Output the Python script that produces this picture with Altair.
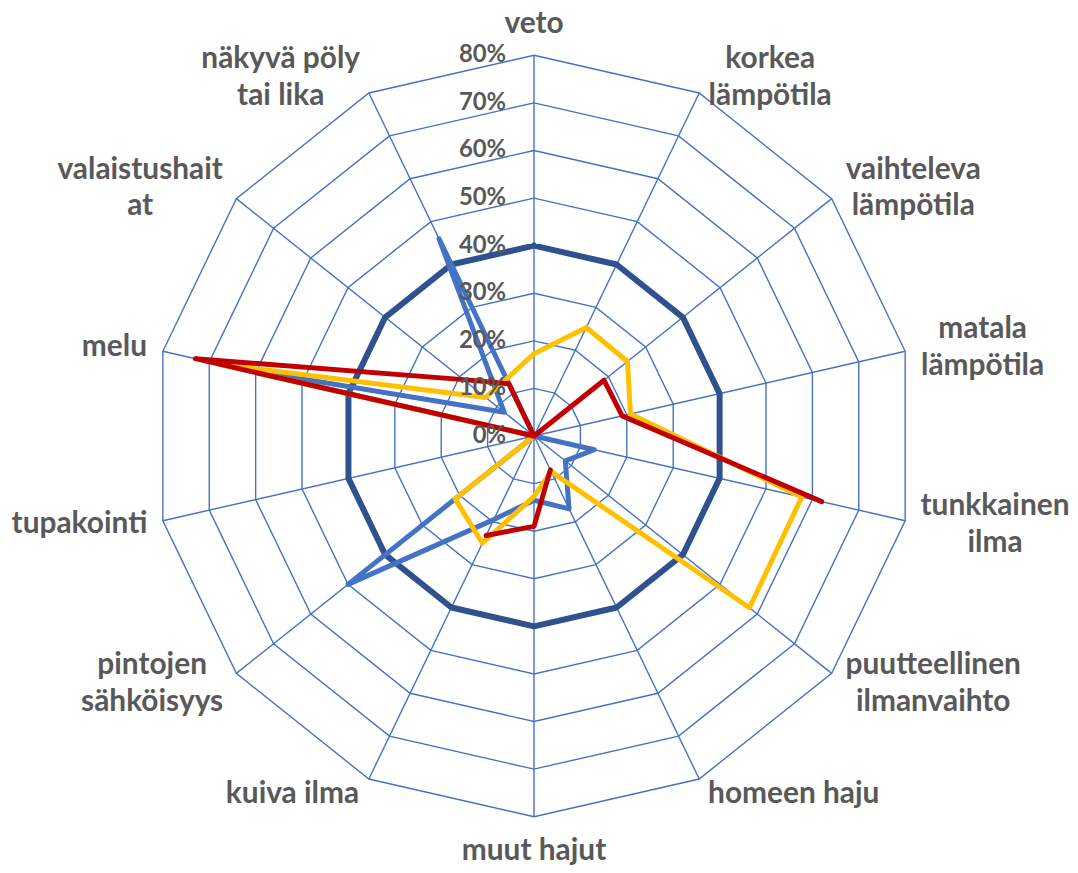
import math
import altair as alt
import pandas as pd

# ---------------- data ----------------
categories = [
    "veto", "korkea lämpötila", "vaihteleva lämpötila", "matala lämpötila",
    "tunkkainen ilma", "puutteellinen ilmanvaihto", "homeen haju", "muut hajut",
    "kuiva ilma", "pintojen sähköisyys", "tupakointi", "melu",
    "valaistushaitat", "näkyvä pöly tai lika",
]
category_lines = [
    "veto", "korkea\nlämpötila", "vaihteleva\nlämpötila", "matala\nlämpötila",
    "tunkkainen\nilma", "puutteellinen\nilmanvaihto", "homeen haju", "muut hajut",
    "kuiva ilma", "pintojen\nsähköisyys", "tupakointi", "melu",
    "valaistushait\nat", "näkyvä pöly\ntai lika",
]

series_navy = [40, 40, 40, 40, 40, 40, 40, 40, 40, 40, 40, 40, 40, 40]
series_blue = [0, 0, 0, 0, 13, 8.4, 17, 13.5, 19.5, 50, 0, 64, 8, 46]
series_yellow = [17.3, 25.3, 25.1, 20.8, 57.7, 57.9, 8.3, 12.7, 25, 21.2, 0, 68, 13, 13.3]
series_red = [0, 0, 18.8, 19, 62, None, 7.9, 19, 23.2, None, 0, 73, 19, 12.2]

tick_values = [0, 10, 20, 30, 40, 50, 60, 70, 80]
tick_labels = ["0%", "10%", "20%", "30%", "40%", "50%", "60%", "70%", "80%"]

series_names = ["s1", "s2", "s3", "s4"]
series_values = [series_navy, series_blue, series_yellow, series_red]
series_colors = ["#2F528F", "#4472C4", "#FFC000", "#C00000"]
series_widths = [6, 5, 5, 5]

N = len(categories)
RMAX = 80
W = 765  # plot area (square)
PPU = W / (2 * RMAX)

# ---------------- tables ----------------
rows = []
for name, vals in zip(series_names, series_values):
    seg = 0
    for k in range(N + 1):
        i = k % N
        v = vals[i]
        if v is None:
            seg += 1
            continue
        rows.append(dict(series=name, idx=i, order=k, value=v, seg=seg))
df_series = pd.DataFrame(rows)

ring_rows = []
for lvl in tick_values[1:]:
    for k in range(N + 1):
        ring_rows.append(dict(level=lvl, idx=k % N, order=k, value=lvl))
df_rings = pd.DataFrame(ring_rows)

df_spokes = pd.DataFrame(dict(idx=list(range(N)), value=[RMAX] * N))
df_ticks = pd.DataFrame(dict(value=tick_values, label=tick_labels))

# label placement (outside the axis ends, like the spreadsheet chart)
cw = {'a': 0.51, 'b': 0.56, 'c': 0.46, 'd': 0.56, 'e': 0.53, 'f': 0.34, 'g': 0.51,
      'h': 0.56, 'i': 0.26, 'j': 0.26, 'k': 0.53, 'l': 0.26, 'm': 0.85, 'n': 0.56,
      'o': 0.56, 'p': 0.56, 'r': 0.38, 's': 0.43, 't': 0.37, 'u': 0.56, 'v': 0.52,
      'y': 0.52, 'ä': 0.51, 'ö': 0.56, ' ': 0.24}
FS = 30
LH = 37
lab_rows = []
for i, txt in enumerate(category_lines):
    th = 2 * math.pi * i / N
    s, c = math.sin(th), math.cos(th)
    lines = txt.split("\n")
    w = max(sum(cw.get(ch, 0.5) for ch in line) for line in lines) * FS
    if abs(s) < 1e-6:
        dxp, dyp = 0.0, (31.0 if c > 0 else -34.0)
    else:
        dxp = math.copysign(w / 2 + 4 + 12 * abs(s), s)
        dyp = c * 17
    dyp += (len(lines) - 1) * LH / 2  # first line sits at the anchor
    lab_rows.append(dict(text=txt, lx=RMAX * s + dxp / PPU, ly=RMAX * c + dyp / PPU))
df_labels = pd.DataFrame(lab_rows)

# ---------------- chart ----------------
xs = alt.Scale(domain=[-RMAX, RMAX], nice=False, zero=False)
ys = alt.Scale(domain=[-RMAX, RMAX], nice=False, zero=False)

def polar(ch):
    return ch.transform_calculate(
        theta=f"datum.idx * 2 * PI / {N}"
    ).transform_calculate(
        px="datum.value * sin(datum.theta)",
        py="datum.value * cos(datum.theta)",
    )

GRID = "#4472C4"

rings = polar(alt.Chart(df_rings)).mark_line(
    color=GRID, strokeWidth=1.4, strokeJoin="miter"
).encode(
    x=alt.X("px:Q", scale=xs, axis=None),
    y=alt.Y("py:Q", scale=ys, axis=None),
    detail="level:N",
    order="order:Q",
)

spokes = polar(alt.Chart(df_spokes)).transform_calculate(zero="0").mark_rule(
    color=GRID, strokeWidth=1.4
).encode(
    x=alt.X("zero:Q", scale=xs, axis=None),
    y=alt.Y("zero:Q", scale=ys, axis=None),
    x2="px:Q",
    y2="py:Q",
)

layers = [rings, spokes]
for name, col, sw in zip(series_names, series_colors, series_widths):
    layers.append(
        polar(alt.Chart(df_series).transform_filter(alt.datum.series == name)).mark_line(
            color=col, strokeWidth=sw, strokeJoin="round", strokeCap="round"
        ).encode(
            x=alt.X("px:Q", scale=xs, axis=None),
            y=alt.Y("py:Q", scale=ys, axis=None),
            detail="seg:N",
            order="order:Q",
        )
    )

ticks = alt.Chart(df_ticks).transform_calculate(zero="0").mark_text(
    align="right", baseline="middle", dx=-28, font="Lato", fontWeight="bold",
    fontSize=24, color="#595959"
).encode(
    x=alt.X("zero:Q", scale=xs, axis=None),
    y=alt.Y("value:Q", scale=ys, axis=None),
    text="label:N",
)

labels = alt.Chart(df_labels).mark_text(
    align="center", baseline="middle", font="Lato", fontWeight="bold",
    fontSize=FS, lineHeight=LH, lineBreak="\n", color="#595959"
).encode(
    x=alt.X("lx:Q", scale=xs, axis=None),
    y=alt.Y("ly:Q", scale=ys, axis=None),
    text="text:N",
)

layers += [ticks, labels]

chart = alt.layer(*layers).properties(
    width=W, height=W,
    autosize=alt.AutoSizeParams(type="none"),
    padding={"left": 146, "top": 45.5, "right": 156, "bottom": 46},
).configure_view(stroke=None)

chart.save("out.html", embed_options={"renderer": "svg", "actions": False})
